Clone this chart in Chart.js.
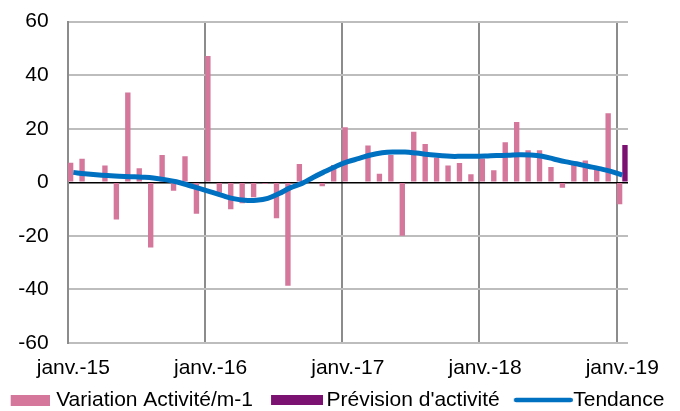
<!DOCTYPE html>
<html>
<head>
<meta charset="utf-8">
<script src="https://cdn.jsdelivr.net/npm/chart.js@4.4.1/dist/chart.umd.min.js"></script>
<style>
  html, body { margin: 0; padding: 0; background: #fff; }
</style>
</head>
<body>
<canvas id="chart" width="680" height="411"></canvas>
<script>
// one category per month, janv. 2015 -> janv. 2019
const categories = [
  "janv.-15", "févr.-15", "mars-15", "avr.-15", "mai-15", "juin-15", "juil.-15", "août-15", "sept.-15", "oct.-15", "nov.-15", "déc.-15",
  "janv.-16", "févr.-16", "mars-16", "avr.-16", "mai-16", "juin-16", "juil.-16", "août-16", "sept.-16", "oct.-16", "nov.-16", "déc.-16",
  "janv.-17", "févr.-17", "mars-17", "avr.-17", "mai-17", "juin-17", "juil.-17", "août-17", "sept.-17", "oct.-17", "nov.-17", "déc.-17",
  "janv.-18", "févr.-18", "mars-18", "avr.-18", "mai-18", "juin-18", "juil.-18", "août-18", "sept.-18", "oct.-18", "nov.-18", "déc.-18",
  "janv.-19"
];

const variation = [
  7.3, 8.8, 0, 6.3, -13.9, 33.5, 5.2, -24.3, 10.2, -3.2, 9.7, -11.7,
  47.2, -3.9, -10.1, -7.8, -5.6, -0.5, -13.4, -38.6, 6.8, 0, -1.5, 6.5,
  20.6, 0, 13.7, 3.2, 10.2, -20, 18.9, 14.3, 9.2, 6.3, 7.2, 3.0,
  8.9, 4.5, 15, 22.5, 12, 12, 5.7, -2, 6.5, 8.1, 5, 25.8,
  -8.2
];

const prevision = [
  null, null, null, null, null, null, null, null, null, null, null, null,
  null, null, null, null, null, null, null, null, null, null, null, null,
  null, null, null, null, null, null, null, null, null, null, null, null,
  null, null, null, null, null, null, null, null, null, null, null, null,
  13.9
];

const tendance = [
  3.7, 3.2, 2.8, 2.5, 2.3, 2.1, 1.9, 1.6, 1.0, 0.2, -1.0, -2.3,
  -3.6, -4.9, -6.1, -6.7, -6.7, -6.0, -4.2, -2.0, -0.4, 1.9, 4.0, 6.0,
  7.7, 8.9, 10.2, 11.0, 11.3, 11.3, 10.9, 10.4, 10.0, 9.7, 9.7, 9.7,
  9.8, 10.0, 10.1, 10.3, 10.2, 9.7, 8.7, 7.7, 6.9, 6.0, 5.1, 4.1,
  2.7
];

const yTicks = [-60, -40, -20, 0, 20, 40, 60];

const colors = ['#D4779B', '#7B1170', '#0070C0'];

const font = { family: "'Liberation Sans', Arial, sans-serif", size: 21 };

// legend swatches as small canvases (the excel legend keys are not all the same width)
function swatch(w, h, x0, x1, color, line) {
  const c = document.createElement('canvas');
  c.width = w;
  c.height = h;
  const g = c.getContext('2d');
  if (line) {
    g.strokeStyle = color;
    g.lineWidth = 4.5;
    g.lineCap = 'round';
    g.beginPath();
    g.moveTo(x0 + 2.25, h / 2);
    g.lineTo(x1 - 2.25, h / 2);
    g.stroke();
  } else {
    g.fillStyle = color;
    g.fillRect(x0, 0, x1 - x0, h);
  }
  return c;
}
const swatches = [
  swatch(53, 11, 14, 53, colors[0], false),
  swatch(59, 10, 7, 59, colors[1], false),
  swatch(65, 6, 6, 65, colors[2], true)
];

// pull the legend row up a little, its padding is also the gap between items
const legendShift = {
  id: 'legendShift',
  afterLayout(chart) {
    chart.legend.top -= 10;
    chart.legend.bottom -= 10;
  }
};

const chart = new Chart(document.getElementById('chart'), {
  type: 'bar',
  data: {
    labels: categories,
    datasets: [
      {
        label: 'Variation Activité/m-1',
        data: variation,
        backgroundColor: colors[0],
        categoryPercentage: 0.94,
        barPercentage: 1,
        order: 1
      },
      {
        label: "Prévision d'activité",
        data: prevision,
        backgroundColor: colors[1],
        categoryPercentage: 0.94,
        barPercentage: 1,
        order: 1
      },
      {
        type: 'line',
        label: 'Tendance',
        data: tendance,
        borderColor: colors[2],
        backgroundColor: colors[2],
        borderWidth: 5,
        tension: 0.4,
        pointRadius: 0,
        fill: false,
        order: 0
      }
    ]
  },
  plugins: [legendShift],
  options: {
    responsive: false,
    animation: false,
    devicePixelRatio: 1,
    // negative side padding so the legend row fits on one line
    layout: { padding: { top: 0, left: -27.5, right: -12.5, bottom: -19.5 } },
    scales: {
      x: {
        afterFit: scale => { scale.height = 38.5; },
        grid: {
          offset: true,
          drawTicks: false,
          lineWidth: 2,
          color: ctx => (ctx.index !== undefined && ctx.index % 12 === 0) ? '#8C8C8C' : 'rgba(0,0,0,0)'
        },
        border: { display: false },
        ticks: {
          autoSkip: false,
          maxRotation: 0,
          padding: 13,
          color: '#000',
          font: font,
          callback: (value, index) => index % 12 === 0 ? categories[index] : ''
        }
      },
      y: {
        min: yTicks[0],
        max: yTicks[yTicks.length - 1],
        afterBuildTicks: scale => { scale.ticks = yTicks.map(v => ({ value: v })); },
        afterFit: scale => { scale.width = 95.1; },
        grid: {
          drawTicks: true,
          tickLength: 10,
          tickColor: 'rgba(0,0,0,0)',
          lineWidth: ctx => ctx.tick && ctx.tick.value === 0 ? 1.5 : 2,
          color: ctx => ctx.tick && ctx.tick.value === 0 ? '#000' : '#BDBDBD'
        },
        border: { display: true, color: '#8C8C8C', width: 2 },
        ticks: { padding: 9, color: '#000', font: font }
      },
      y2: {
        position: 'right',
        display: true,
        grid: { display: false },
        border: { display: false },
        ticks: { display: false },
        afterFit: scale => { scale.width = 64.5; }
      }
    },
    plugins: {
      tooltip: { enabled: false },
      legend: {
        position: 'bottom',
        labels: {
          usePointStyle: true,
          pointStyleWidth: 45,
          boxHeight: 10,
          padding: 18,
          color: '#000',
          font: { family: font.family, size: 21 },
          sort: (a, b) => a.datasetIndex - b.datasetIndex,
          generateLabels: c => Chart.defaults.plugins.legend.labels.generateLabels(c).map(item => {
            item.pointStyle = swatches[item.datasetIndex];
            item.lineWidth = 0;
            return item;
          })
        }
      }
    }
  }
});
</script>
</body>
</html>
